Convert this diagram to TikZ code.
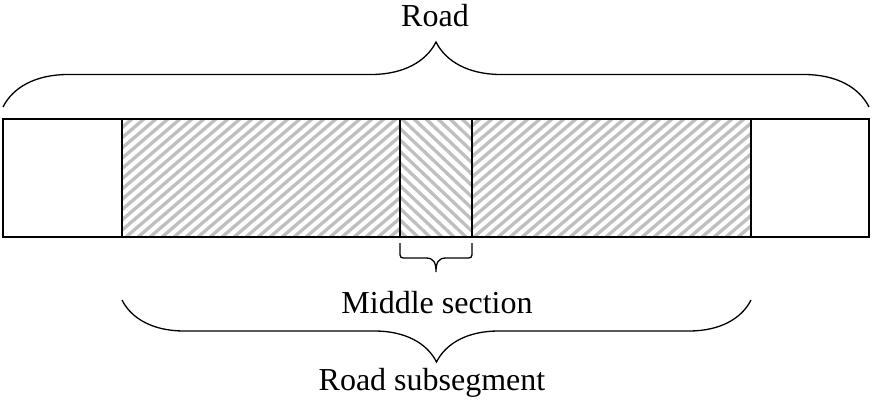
\documentclass[tikz,border=0pt]{standalone}
\usepackage{fontspec}
\setmainfont{Liberation Serif}
\usetikzlibrary{decorations.pathreplacing}

\begin{document}
\begin{tikzpicture}[x=1pt,y=-1pt,
    hatch/.style={draw=black!25,line width=3.3pt},
    curly/.style={decorate,decoration={brace,amplitude=#1},line width=1.3pt},
    lbl/.style={font=\fontsize{32}{38}\selectfont,anchor=base}]
    \useasboundingbox (0,0) rectangle (873,409);
    % Section borders of the road
    \coordinate (a) at (3,119);
    \coordinate (b) at (122,119);
    \coordinate (c) at (400,119);
    \coordinate (d) at (472,119);
    \coordinate (e) at (751,119);
    \coordinate (f) at (869,237);
    % Hatching of the subsegment
    \begin{scope}
        \clip (b) rectangle (400,237);
        \foreach \x in {-30,-18,...,420}
            \draw[hatch] (\x,237) -- (\x+138,119);
    \end{scope}
    \begin{scope}
        \clip (d) rectangle (751,237);
        \foreach \x in {330,342,...,760}
            \draw[hatch] (\x,237) -- (\x+138,119);
    \end{scope}
    % Hatching of the middle section
    \begin{scope}
        \clip (c) rectangle (472,237);
        \foreach \x in {270,282,...,480}
            \draw[hatch] (\x,119) -- (\x+124,237);
    \end{scope}
    % Draw the road
    \draw[line width=1.6pt] (a) rectangle (f);
    \foreach \p in {b,c,d,e}
        \draw[line width=1.6pt] (\p) -- ++(0,118);
    % Braces
    \draw[curly=65pt] (3,107) -- (869,107);
    \draw[curly=62pt] (751,300) -- (122,300);
    \draw[line width=1.3pt] (400,243) -- (400,251) .. controls (400,258) .. (407,258)
        -- (426,258) .. controls (434,258) and (436,263) .. (436,272)
        .. controls (436,263) and (438,258) .. (446,258)
        -- (465,258) .. controls (472,258) .. (472,251) -- (472,243);
    % Labels
    \node[lbl] (road) at (435,27) {Road};
    \node[lbl] (middle) at (437,313) {Middle section};
    \node[lbl] (subseg) at (432,390) {Road subsegment};
\end{tikzpicture}
\end{document}
